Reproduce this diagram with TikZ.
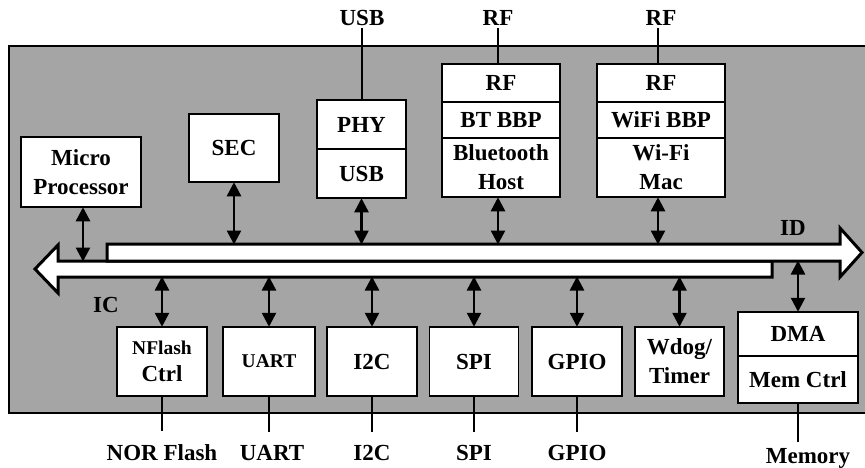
\documentclass[tikz,border=0pt]{standalone}
\usepackage{fontspec}
\setmainfont{Liberation Serif}
\usetikzlibrary{arrows.meta}
\definecolor{chipgray}{RGB}{165,165,165}
\newcommand{\bigtxt}{\fontsize{23}{29}\selectfont\bfseries}
\newcommand{\smalltxt}{\fontsize{19.5}{22}\selectfont\bfseries}
\begin{document}
\begin{tikzpicture}[x=1pt,y=-1pt,
  blk/.style={draw, fill=white, line width=1.5pt, inner sep=0pt,
              font=\bigtxt, align=center},
  bus/.style={draw, fill=white, line width=3pt, line join=miter},
  bidir/.style={line width=2.5pt,
                {Triangle[width=14pt,length=14pt]}-{Triangle[width=14pt,length=14pt]},
                shorten <=-0.5pt, shorten >=-0.5pt},
  wire/.style={line width=1.6pt},
  toplab/.style={font=\bigtxt, inner xsep=0pt, inner ysep=3pt, anchor=base},
  botlab/.style={font=\bigtxt, inner xsep=0pt, inner ysep=13pt, anchor=base},
  buslab/.style={font=\bigtxt, inner sep=0pt}
]
\useasboundingbox (0,0) rectangle (865,467);

% chip outline
\fill[chipgray] (9,46) rectangle (865,413);
\draw[line width=1.5pt] (865,46) -- (9,46) -- (9,413) -- (865,413);

% bus levels
\coordinate (idTop) at (0,244);
\coordinate (busMid) at (0,261);
\coordinate (icBot) at (0,277);

% IC bus (leftwards) and ID bus (rightwards)
\draw[bus] (772,261) -- (58,261) -- (58,245) -- (35,269) -- (58,293)
           -- (58,277) -- (772,277) -- cycle;
\draw[bus] (107,244) -- (840,244) -- (840,228) -- (862,252.5) -- (840,277)
           -- (840,261) -- (107,261) -- cycle;
\node[buslab] (ic) at (106,305) {IC};
\node[buslab] (id) at (793,228) {ID};

% upper blocks
\node[blk, minimum width=120pt, minimum height=70pt] (cpu) at (81,172) {Micro\\Processor};
\node[blk, minimum width=90pt, minimum height=68pt] (sec) at (234,148) {SEC};

\node[blk, minimum width=89pt, minimum height=49pt] (phy) at (361.5,124.5) {PHY};
\node[blk, minimum width=89pt, minimum height=49pt] (usb) at (361.5,173.5) {USB};

\node[blk, minimum width=118pt, minimum height=38pt] (btrf) at (501,83) {RF};
\node[blk, minimum width=118pt, minimum height=36pt] (btbbp) at (501,120) {BT BBP};
\node[blk, minimum width=118pt, minimum height=59pt] (bthost) at (501,167.5) {Bluetooth\\Host};

\node[blk, minimum width=128pt, minimum height=38pt] (wfrf) at (661,83) {RF};
\node[blk, minimum width=128pt, minimum height=36pt] (wfbbp) at (661,120) {WiFi BBP};
\node[blk, minimum width=128pt, minimum height=59pt] (wfmac) at (661,167.5) {Wi-Fi\\Mac};

% lower blocks
\node[blk, minimum width=90pt, minimum height=69pt] (nfl) at (162,361.5)
     {{\smalltxt NFlash}\\[-2pt]Ctrl};
\node[blk, minimum width=92pt, minimum height=69pt] (uart) at (269,361.5) {\smalltxt UART};
\node[blk, minimum width=90pt, minimum height=69pt] (i2c) at (372,361.5) {I2C};
\node[blk, minimum width=89pt, minimum height=69pt] (spi) at (474,361.5) {SPI};
\node[blk, minimum width=90pt, minimum height=69pt] (gpio) at (577,361.5) {GPIO};
\node[blk, minimum width=89pt, minimum height=69pt] (wdog) at (679.5,361.5) {Wdog/\\Timer};
\node[blk, minimum width=120pt, minimum height=44pt] (dma) at (798,334) {DMA};
\node[blk, minimum width=120pt, minimum height=47pt] (mem) at (798,379.5) {Mem Ctrl};

% bus connections
\draw[bidir] ([xshift=2pt]cpu.south) -- ([xshift=2pt]cpu.south |- busMid);
\draw[bidir] (sec.south) -- (sec.south |- idTop);
\draw[bidir] (usb.south) -- (usb.south |- idTop);
\draw[bidir] ([xshift=-3pt]bthost.south) -- ([xshift=-3pt]bthost.south |- idTop);
\draw[bidir] ([xshift=-3pt]wfmac.south) -- ([xshift=-3pt]wfmac.south |- idTop);

\draw[bidir] (nfl.north |- icBot) -- (nfl.north);
\draw[bidir] (uart.north |- icBot) -- (uart.north);
\draw[bidir] (i2c.north |- icBot) -- (i2c.north);
\draw[bidir] (spi.north |- icBot) -- (spi.north);
\draw[bidir] (gpio.north |- icBot) -- (gpio.north);
\draw[bidir] (wdog.north |- icBot) -- (wdog.north);
\draw[bidir] (dma.north |- busMid) -- (dma.north);

% external pins
\node[toplab] (pUSB) at (362,25) {USB};
\node[toplab] (pRF1) at (498,25) {RF};
\node[toplab] (pRF2) at (661,25) {RF};
\draw[wire] (pUSB.south) -- (pUSB.south |- phy.north);
\draw[wire] (pRF1.south) -- (pRF1.south |- btrf.north);
\draw[wire] ([xshift=-3pt]pRF2.south) -- ([xshift=-3pt]pRF2.south |- wfrf.north);

\node[botlab] (pNOR) at (162,460) {NOR Flash};
\node[botlab] (pUART) at (272,460) {UART};
\node[botlab] (pI2C) at (372,460) {I2C};
\node[botlab] (pSPI) at (474,460) {SPI};
\node[botlab] (pGPIO) at (577,460) {GPIO};
\node[botlab, inner ysep=6pt] (pMem) at (808,463) {Memory};
\draw[wire] (nfl.south) -- (nfl.south |- pNOR.north);
\draw[wire] (uart.south) -- (uart.south |- pUART.north);
\draw[wire] (i2c.south) -- (i2c.south |- pI2C.north);
\draw[wire] (spi.south) -- (spi.south |- pSPI.north);
\draw[wire] (gpio.south) -- (gpio.south |- pGPIO.north);
\draw[wire] (mem.south) -- (mem.south |- pMem.north);
\end{tikzpicture}
\end{document}
